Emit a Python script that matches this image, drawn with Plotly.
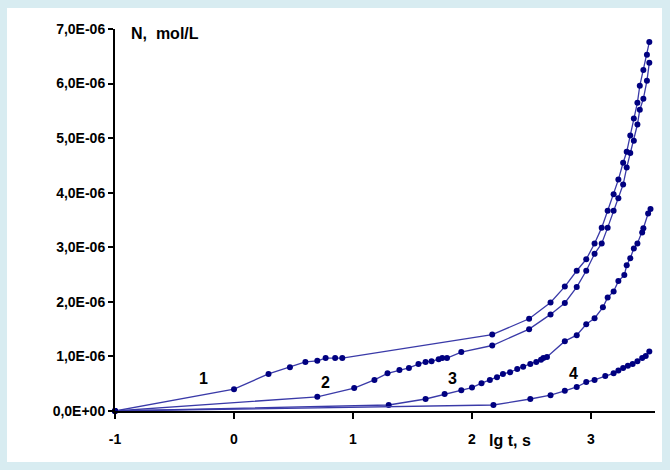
import plotly.graph_objects as go

# lg t (s) and N (×1e-6 mol/L) for each curve
x1 = [-1, 0, 0.29, 0.47, 0.60, 0.70, 0.77, 0.85, 0.91, 2.17, 2.48, 2.66, 2.78, 2.88, 2.96, 3.03, 3.09,
      3.14, 3.19, 3.23, 3.27, 3.30, 3.33, 3.36, 3.39, 3.41, 3.44, 3.47, 3.49]
y1 = [0, 0.40, 0.68, 0.80, 0.90, 0.92, 0.97, 0.97, 0.97, 1.40, 1.69, 1.99, 2.28, 2.57, 2.78, 3.07, 3.36,
      3.67, 3.97, 4.24, 4.55, 4.75, 5.05, 5.36, 5.65, 5.96, 6.25, 6.53, 6.76]

x2 = [-1, 0.70, 1.01, 1.18, 1.29, 1.39, 1.47, 1.55, 1.61, 1.66, 1.72, 1.75, 1.79, 1.91, 2.17, 2.48, 2.66,
      2.78, 2.88, 2.96, 3.03, 3.09, 3.14, 3.19, 3.23, 3.27, 3.30, 3.33, 3.36, 3.39, 3.41, 3.44, 3.47, 3.49]
y2 = [0, 0.26, 0.42, 0.57, 0.69, 0.75, 0.79, 0.86, 0.90, 0.91, 0.95, 0.97, 0.97, 1.08, 1.20, 1.50, 1.77,
      1.98, 2.27, 2.57, 2.88, 3.07, 3.36, 3.67, 3.90, 4.15, 4.46, 4.73, 4.95, 5.25, 5.52, 5.72, 6.05, 6.38]

x3 = [-1, 1.30, 1.61, 1.77, 1.91, 2.00, 2.08, 2.15, 2.21, 2.26, 2.32, 2.38, 2.43, 2.49, 2.54, 2.58, 2.60,
      2.63, 2.78, 2.88, 2.96, 3.03, 3.10, 3.14, 3.19, 3.23, 3.28, 3.30, 3.33, 3.36, 3.39, 3.43, 3.44, 3.48, 3.50]
y3 = [0, 0.11, 0.22, 0.31, 0.38, 0.43, 0.51, 0.57, 0.62, 0.68, 0.71, 0.77, 0.81, 0.86, 0.90, 0.94, 0.97,
      0.99, 1.28, 1.39, 1.59, 1.70, 1.90, 2.08, 2.19, 2.38, 2.49, 2.67, 2.80, 2.98, 3.07, 3.27, 3.35, 3.62, 3.70]

x4 = [-1, 2.18, 2.49, 2.66, 2.78, 2.88, 2.96, 3.03, 3.12, 3.19, 3.23, 3.27, 3.31, 3.35, 3.39, 3.43, 3.46, 3.49]
y4 = [0, 0.11, 0.22, 0.29, 0.37, 0.44, 0.53, 0.57, 0.64, 0.69, 0.74, 0.79, 0.83, 0.86, 0.91, 0.97, 1.01, 1.09]

curve_labels = ["1", "2", "3", "4"]
label_x = [-0.26, 0.77, 1.84, 2.85]
label_y = [0.60, 0.53, 0.60, 0.69]

x_ticks = [-1, 0, 1, 2, 3]
y_ticks = [0, 1, 2, 3, 4, 5, 6, 7]
y_ticktext = ["0,0E+00", "1,0E-06", "2,0E-06", "3,0E-06", "4,0E-06", "5,0E-06", "6,0E-06", "7,0E-06"]

SCALE = 1e-6
W, H = 670, 470
ML, MR, MT, MB = 115, 15, 29, 59
PW, PH = W - ML - MR, H - MT - MB
BG = "#d8ecf1"

fig = go.Figure()
for xs, ys in [(x1, y1), (x2, y2), (x3, y3), (x4, y4)]:
    fig.add_trace(go.Scatter(
        x=xs, y=[v * SCALE for v in ys], mode="lines+markers",
        line=dict(color="#3a3aa8", width=1.3),
        marker=dict(color="#000080", size=6, symbol="circle"),
        cliponaxis=False, showlegend=False))

tickf = dict(family="Liberation Sans, Arial", size=14, color="black", weight="bold")
titlef = dict(family="Liberation Sans, Arial", size=16, color="black", weight="bold")

for t, lx, ly in zip(curve_labels, label_x, label_y):
    fig.add_annotation(x=lx, y=ly * SCALE, text=t, showarrow=False,
                       font=dict(family="Liberation Sans, Arial", size=16, color="black", weight="bold"))

fig.add_annotation(xref="paper", yref="paper", x=(129 - ML) / PW, y=1 - (34 - MT) / PH,
                   text="N,\u00a0 mol/L", showarrow=False, xanchor="left", yanchor="middle", font=titlef)
fig.add_annotation(xref="x", yref="paper", x=2.32, y=-(440 - 411) / PH,
                   text="lg t, s", showarrow=False, xanchor="center", yanchor="middle", font=titlef)

# white panel over light blue page background
fig.add_shape(type="rect", xref="paper", yref="paper", layer="below",
              x0=(7 - ML) / PW, x1=(662 - ML) / PW,
              y0=1 - (462 - MT) / PH, y1=1 - (8 - MT) / PH,
              fillcolor="white", line=dict(width=0))

fig.update_layout(
    width=W, height=H,
    margin=dict(l=ML, r=MR, t=MT, b=MB),
    paper_bgcolor=BG, plot_bgcolor="rgba(0,0,0,0)",
    xaxis=dict(range=[-1, -1 + PW / 119], tickvals=x_ticks, ticktext=[str(v) for v in x_ticks],
               showgrid=False, zeroline=False, showline=True, linecolor="black", linewidth=2,
               ticks="outside", ticklen=6, tickwidth=2, tickcolor="black",
               ticklabelstandoff=8, tickfont=tickf),
    yaxis=dict(range=[0, 7e-6], tickvals=[v * SCALE for v in y_ticks], ticktext=y_ticktext,
               showgrid=False, zeroline=False, showline=True, linecolor="black", linewidth=2,
               ticks="outside", ticklen=5, tickwidth=2, tickcolor="black", tickfont=tickf),
)

fig.write_html("out.html", config={"displayModeBar": False},
               post_script="document.body.style.margin='0';document.body.style.background='%s';" % BG)
